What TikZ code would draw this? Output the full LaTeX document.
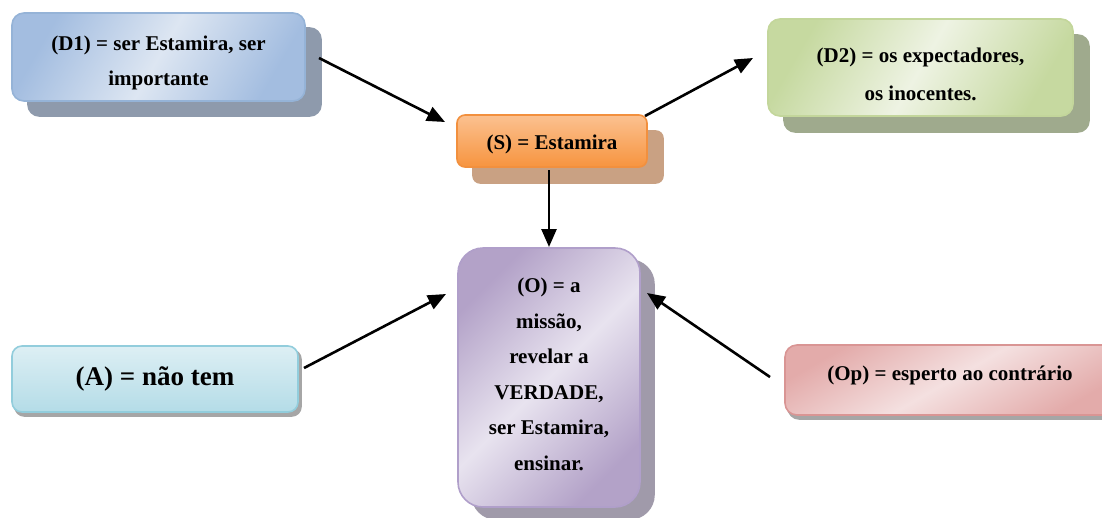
\documentclass[tikz,border=0pt]{standalone}
\usepackage{fontspec}
\setmainfont{Liberation Serif}
\usetikzlibrary{arrows.meta,backgrounds}
\definecolor{dAe}{HTML}{A3BDE0}
\definecolor{dAm}{HTML}{DDE6F2}
\definecolor{dAb}{HTML}{95B3D7}
\definecolor{dAs}{HTML}{8E9AAC}
\definecolor{sT}{HTML}{FBC190}
\definecolor{sB}{HTML}{F7943F}
\definecolor{sb}{HTML}{F2903E}
\definecolor{ss}{HTML}{C9A183}
\definecolor{dBe}{HTML}{C6D9A0}
\definecolor{dBm}{HTML}{EEF3E3}
\definecolor{dBb}{HTML}{C3D69B}
\definecolor{dBs}{HTML}{9FAA8D}
\definecolor{oe}{HTML}{B3A2C8}
\definecolor{om}{HTML}{E8E3EF}
\definecolor{ob}{HTML}{B09FCA}
\definecolor{os}{HTML}{A09AAA}
\definecolor{aT}{HTML}{DDEFF4}
\definecolor{aB}{HTML}{B4DCE7}
\definecolor{ab}{HTML}{92CDDC}
\definecolor{as}{HTML}{A6A6A6}
\definecolor{pe}{HTML}{E3ABAA}
\definecolor{pm}{HTML}{F4E0E0}
\definecolor{pb}{HTML}{D99594}
\begin{document}
\begin{tikzpicture}[x=1pt,y=-1pt,
  box/.style={align=center, inner sep=0pt, line width=1.6pt,
    font=\bfseries\fontsize{21}{35}\selectfont},
  arr/.style={line width=2.6pt, -{Triangle[length=18pt,width=15pt]}}]
\useasboundingbox (0,0) rectangle (1102,517);

\node[box, draw=dAb, rounded corners=12pt, minimum width=293pt, minimum height=88pt,
  top color=dAe, bottom color=dAe, middle color=dAm, shading angle=60, text height=60.5pt]
  (d1) at (158.5,57) {(D1) = ser Estamira, ser\\importante};

\node[box, draw=sb, rounded corners=8pt, minimum width=190pt, minimum height=52pt,
  top color=sT, bottom color=sB, text height=22pt]
  (s) at (552,141) {(S) = Estamira};

\node[box, draw=dBb, rounded corners=12pt, minimum width=305pt, minimum height=97pt,
  top color=dBe, bottom color=dBe, middle color=dBm, shading angle=60,
  font=\bfseries\fontsize{21}{38}\selectfont, text height=65.5pt]
  (d2) at (920.5,67.5) {(D2) = os expectadores,\\os inocentes.};

\node[box, draw=ob, rounded corners=25pt, minimum width=182pt, minimum height=259pt,
  top color=oe, bottom color=oe, middle color=om, shading angle=45,
  font=\bfseries\fontsize{21}{35.6}\selectfont, text depth=6.5pt]
  (o) at (549,377.5) {(O) = a\\missão,\\revelar a\\VERDADE,\\ser Estamira,\\ensinar.};

\node[box, draw=ab, rounded corners=10pt, minimum width=286pt, minimum height=66pt,
  top color=aT, bottom color=aB, font=\bfseries\fontsize{27}{32}\selectfont]
  (a) at (155,379) {(A) = não tem};

\node[box, draw=pb, rounded corners=12pt, minimum width=330pt, minimum height=70pt,
  top color=pe, bottom color=pe, middle color=pm, shading angle=30, text depth=13pt]
  (op) at (950,380) {(Op) = esperto ao contrário};

\begin{scope}[on background layer]
  \fill[dAs, rounded corners=12pt] ([shift={(16,15)}]d1.north west) rectangle ([shift={(16,15)}]d1.south east);
  \fill[ss, rounded corners=8pt] ([shift={(16,16)}]s.north west) rectangle ([shift={(16,16)}]s.south east);
  \fill[dBs, rounded corners=12pt] ([shift={(16,16)}]d2.north west) rectangle ([shift={(16,16)}]d2.south east);
  \fill[os, rounded corners=25pt] ([shift={(14,12)}]o.north west) rectangle ([shift={(14,12)}]o.south east);
  \fill[as, rounded corners=10pt] ([shift={(3,4)}]a.north west) rectangle ([shift={(3,4)}]a.south east);
  \fill[as, rounded corners=12pt] ([shift={(3,4)}]op.north west) rectangle ([shift={(3,4)}]op.south east);
\end{scope}

\coordinate (d1out) at (319,58);
\coordinate (sin) at (445,122);
\coordinate (sout) at (645,116);
\coordinate (d2in) at (753,58);
\coordinate (sdown) at (549,170);
\coordinate (otop) at (549,247);
\coordinate (aout) at (304,368);
\coordinate (oleft) at (446,294);
\coordinate (opout) at (770,377);
\coordinate (oright) at (647,293);

\draw[arr] (d1out) -- (sin);
\draw[arr] (sout) -- (d2in);
\draw[arr] (sdown) -- (otop);
\draw[arr] (aout) -- (oleft);
\draw[arr] (opout) -- (oright);
\end{tikzpicture}
\end{document}
